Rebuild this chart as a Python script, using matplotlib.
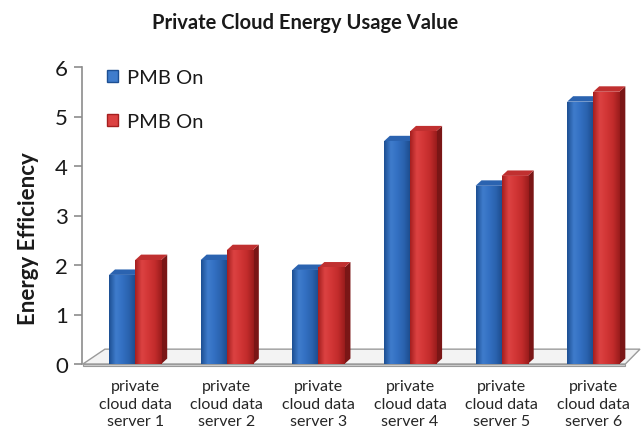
import numpy as np
import matplotlib
matplotlib.use('Agg')
import matplotlib.pyplot as plt
from matplotlib.colors import LinearSegmentedColormap
from matplotlib.patches import Polygon, Patch

categories = ['private\ncloud data\nserver 1', 'private\ncloud data\nserver 2',
              'private\ncloud data\nserver 3', 'private\ncloud data\nserver 4',
              'private\ncloud data\nserver 5', 'private\ncloud data\nserver 6']
series_names = ['PMB On', 'PMB On']
blue_vals = [1.8, 2.1, 1.9, 4.5, 3.6, 5.3]
red_vals = [2.1, 2.3, 1.95, 4.7, 3.8, 5.5]
yticks = [0, 1, 2, 3, 4, 5, 6]
title = 'Private Cloud Energy Usage Value'
ylabel = 'Energy Efficiency'

FONT = ['Lato', 'DejaVu Sans']
plt.rcParams['font.family'] = FONT

fig = plt.figure(figsize=(6.41, 4.35), dpi=100)
ax = fig.add_axes([82 / 641, 70 / 435, 558 / 641, 297 / 435])

w = 0.285
dx, dy = 0.065, 0.11

styles = [
    dict(front=['#1d4f93', '#3f7ccc', '#3370c2', '#2a62ae', '#1c4a8a'], side='#173f78', top='#2b63b0'),
    dict(front=['#a51f1f', '#dc4242', '#d23636', '#c22c2c', '#9a1c1c'], side='#7a1616', top='#c03030'),
]

x_idx = np.arange(len(categories))
grad = np.linspace(0, 1, 64).reshape(1, -1)
for s, vals in enumerate([blue_vals, red_vals]):
    st = styles[s]
    cmap = LinearSegmentedColormap.from_list('c%d' % s, st['front'])
    lefts = x_idx - w + s * w
    bars = ax.bar(lefts, vals, width=w, align='edge', color=st['front'][2],
                  edgecolor='none', zorder=3)
    for i, (rect, v) in enumerate(zip(bars, vals)):
        x0 = rect.get_x()
        z = 3 + i * 10 + s * 4
        side = Polygon([(x0 + w, 0), (x0 + w + dx, dy), (x0 + w + dx, v + dy), (x0 + w, v)],
                       closed=True, facecolor=st['side'], edgecolor='none', zorder=z)
        ax.add_patch(side)
        top = Polygon([(x0, v), (x0 + w, v), (x0 + w + dx, v + dy), (x0 + dx, v + dy)],
                      closed=True, facecolor=st['top'], edgecolor='none', zorder=z + 1)
        ax.add_patch(top)
        rect.set_zorder(z + 2)
        im = ax.imshow(grad, extent=[x0, x0 + w, 0, v], aspect='auto', cmap=cmap,
                       zorder=z + 3, interpolation='bilinear')
        im.set_clip_path(rect)

xl0, xl1 = -0.58, 5.51
ax.set_xlim(xl0, xl1)
ax.set_ylim(0, 6)

# floor slab
fl_dx, fl_dy = 0.24, 0.30
floor_top = Polygon([(xl0 + 0.01, 0.0), (xl1 - 0.16, 0.0), (xl1, fl_dy), (xl0 + 0.01 + fl_dx, fl_dy)],
                    closed=True, facecolor='#f3f3f3', edgecolor='#9a9a9a', linewidth=1.0,
                    zorder=1, clip_on=False)
ax.add_patch(floor_top)
floor_front = Polygon([(xl0 + 0.01, 0.0), (xl1 - 0.16, 0.0), (xl1 - 0.16, -0.05), (xl0 + 0.01, -0.05)],
                      closed=True, facecolor='#d0d0d0', edgecolor='#9a9a9a', linewidth=0.8,
                      zorder=1, clip_on=False)
ax.add_patch(floor_front)

for sp in ['top', 'right', 'bottom']:
    ax.spines[sp].set_visible(False)
ax.spines['left'].set_color('#8c8c8c')
ax.spines['left'].set_linewidth(1.2)
ax.set_yticks(yticks)
ax.set_yticklabels([str(t) for t in yticks])
ax.tick_params(axis='y', colors='#8c8c8c', length=6, width=1.2, labelsize=16,
               labelcolor='#1a1a1a', pad=4)
ax.set_xticks(x_idx)
ax.set_xticklabels(categories, fontsize=11.5, color='#262626', linespacing=1.3)
ax.tick_params(axis='x', length=0, pad=11)

ax.set_ylabel(ylabel, fontsize=16, fontweight='bold', color='#1a1a1a')
ax.yaxis.set_label_coords((39 - 82) / 558, (367 - 241) / 297)
fig.text(305 / 641, 1 - 23 / 435, title, ha='center', va='center', fontsize=14.5,
         fontweight='bold', color='#1a1a1a')

handles = [Patch(facecolor=styles[0]['front'][1], edgecolor=styles[0]['front'][0]),
           Patch(facecolor=styles[1]['front'][1], edgecolor=styles[1]['front'][0])]
leg = ax.legend(handles, series_names, loc='upper left', bbox_to_anchor=(0.012, 1.055),
                frameon=False, fontsize=14.5, handlelength=0.55, handleheight=0.55,
                handletextpad=0.45, labelspacing=1.35)
for t in leg.get_texts():
    t.set_color('#1a1a1a')

fig.savefig('out.png', dpi=100)
